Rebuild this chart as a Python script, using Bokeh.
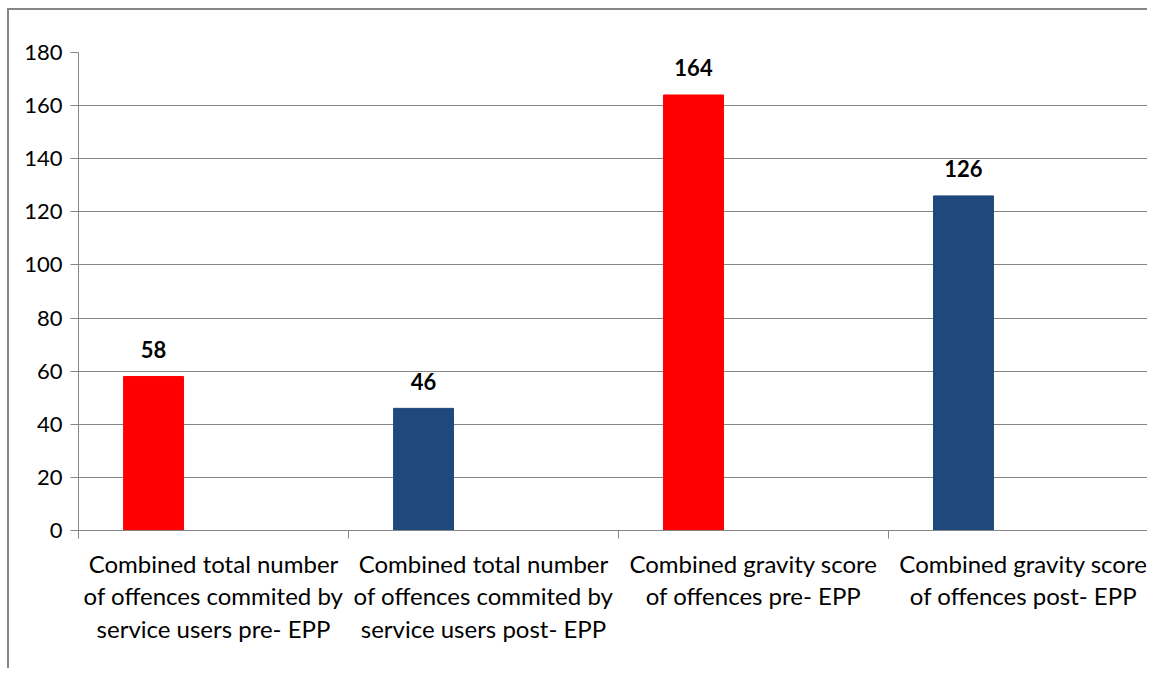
from bokeh.plotting import figure
from bokeh.models import ColumnDataSource, FixedTicker, LabelSet, Range1d
from bokeh.core.properties import value
from bokeh.embed import file_html
from bokeh.resources import INLINE

categories = [
    "Combined total number\nof offences commited by\nservice users pre- EPP",
    "Combined total number\nof offences commited by\nservice users post- EPP",
    "Combined gravity score\nof offences pre- EPP",
    "Combined gravity score\nof offences post- EPP",
]
values = [58, 46, 164, 126]
colors = ["#FF0000", "#1F497D", "#FF0000", "#1F497D"]
y_ticks = [0, 20, 40, 60, 80, 100, 120, 140, 160, 180]

bar_offset = -0.222
bar_width = 0.222
centers = [i + 0.5 for i in range(len(categories))]
xs = [c + bar_offset for c in centers]

src = ColumnDataSource(dict(x=xs, top=values, color=colors, label=[str(v) for v in values]))

FONT = "Lato"
GRAY = "#868686"

p = figure(width=1140, height=660, output_backend="svg", toolbar_location=None,
           x_range=Range1d(0, 3.967), y_range=Range1d(0, 180),
           min_border_left=69, min_border_top=42, min_border_bottom=140, min_border_right=0)
p.styles = {"border-left": f"2px solid {GRAY}", "border-top": f"2px solid {GRAY}",
            "margin-left": "7px", "margin-top": "8px"}
p.outline_line_color = None
p.background_fill_color = "white"
p.border_fill_color = "white"

p.vbar(x="x", top="top", width=bar_width, bottom=0, color="color", source=src)

labels = LabelSet(x="x", y="top", text="label", source=src, y_offset=27,
                  text_align="center", text_baseline="middle",
                  text_font=value(FONT), text_font_style="bold", text_font_size="22px",
                  text_color="black")
p.add_layout(labels)

# y axis
p.yaxis.ticker = FixedTicker(ticks=y_ticks, minor_ticks=[])
p.yaxis.axis_line_color = GRAY
p.yaxis.axis_line_width = 1
p.yaxis.major_tick_line_color = GRAY
p.yaxis.major_tick_out = 8
p.yaxis.major_tick_in = 0
p.yaxis.minor_tick_line_color = None
p.yaxis.major_label_text_font = FONT
p.yaxis.major_label_text_font_size = "22px"
p.yaxis.major_label_text_color = "black"
p.yaxis.major_label_standoff = 8

# x axis
p.xaxis.ticker = FixedTicker(ticks=centers, minor_ticks=list(range(len(categories) + 1)))
p.xaxis.major_label_overrides = {c: lab for c, lab in zip(centers, categories)}
p.xaxis.axis_line_color = GRAY
p.xaxis.major_tick_line_color = None
p.xaxis.minor_tick_line_color = GRAY
p.xaxis.minor_tick_out = 8
p.xaxis.minor_tick_in = 0
p.xaxis.major_label_text_font = FONT
p.xaxis.major_label_text_font_size = "24px"
p.xaxis.major_label_text_color = "black"
p.xaxis.major_label_text_line_height = 1.13
p.xaxis.major_label_standoff = 10

p.xgrid.grid_line_color = None
p.ygrid.ticker = FixedTicker(ticks=y_ticks)
p.ygrid.grid_line_color = GRAY
p.ygrid.grid_line_width = 1

open("out.html", "w").write(file_html(p, INLINE))
